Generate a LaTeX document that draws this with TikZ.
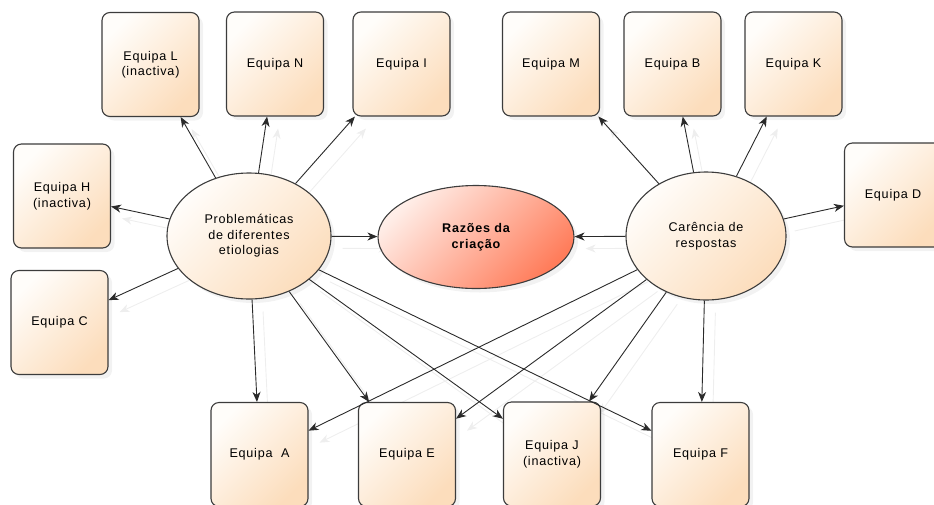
\documentclass[tikz,border=0pt]{standalone}
\usepackage{fontspec}
\setmainfont{Liberation Sans}[LetterSpace=6]
\usetikzlibrary{shapes.geometric,arrows.meta,shadows}
\pgfdeclarelayer{bg}
\pgfsetlayers{bg,main}

\definecolor{boxedge}{HTML}{3C3C3C}
\definecolor{peach}{HTML}{FCDDBC}
\definecolor{peachlight}{HTML}{FFFDFA}
\definecolor{salmon}{HTML}{FF7C5A}
\definecolor{salmonlight}{HTML}{FFEEE8}
\definecolor{wire}{HTML}{2A2A2A}
\definecolor{ghostwire}{HTML}{EEEEEE}

\begin{document}
\begin{tikzpicture}[x=1pt,y=-1pt,
  font=\fontsize{12.6}{15.5}\selectfont,
  team/.style={draw=boxedge, line width=1.1pt, rounded corners=8pt,
    minimum width=97pt, minimum height=104pt, align=center, inner sep=2pt,
    top color=peachlight, bottom color=peach, shading angle=45,
    drop shadow={opacity=0.10, shadow xshift=4pt, shadow yshift=-4pt}},
  cause/.style={ellipse, draw=boxedge, line width=1.1pt, align=center,
    inner sep=0pt, top color=peachlight, bottom color=peach, shading angle=45,
    drop shadow={opacity=0.10, shadow xshift=4pt, shadow yshift=-4pt}},
  core/.style={ellipse, draw=boxedge, line width=1.1pt, align=center,
    inner sep=0pt, top color=salmonlight, bottom color=salmon, shading angle=45,
    font=\fontsize{12.6}{15.5}\selectfont\bfseries,
    drop shadow={opacity=0.10, shadow xshift=4pt, shadow yshift=-4pt}},
  link/.style={draw=wire, line width=0.9pt, -{Stealth[length=10pt,width=8pt,inset=3pt]}},
  ghost/.style={draw=ghostwire, line width=0.9pt, -{Stealth[length=10pt,width=8pt,inset=3pt]},
    transform canvas={xshift=11pt,yshift=-12pt}}
]
\clip (0,0) rectangle (934,504);

% central idea and its two sources
\node[core, minimum width=196pt, minimum height=103pt] (raz) at (476,237) {Razões da\\criação};
\node[cause, minimum width=164pt, minimum height=126pt] (prob) at (249,236) {Problemáticas\\de diferentes\\etiologias};
\node[cause, minimum width=160pt, minimum height=128pt] (car) at (706,236) {Carência de\\respostas};

% teams
\node[team] (L) at (150.5,64.5) {Equipa L\\(inactiva)};
\node[team] (N) at (275,64) {Equipa N};
\node[team] (I) at (401.5,64) {Equipa I};
\node[team] (M) at (551,64) {Equipa M};
\node[team] (B) at (672.5,64) {Equipa B};
\node[team] (K) at (793.5,64) {Equipa K};
\node[team] (H) at (62,196) {Equipa H\\(inactiva)};
\node[team] (C) at (59.5,322.5) {Equipa C};
\node[team] (D) at (893,195) {Equipa D};
\node[team] (A) at (259.5,454.5) {Equipa\ \ A};
\node[team] (E) at (407,454.5) {Equipa E};
\node[team] (J) at (552,454) {Equipa J\\(inactiva)};
\node[team] (F) at (700.5,454.5) {Equipa F};

% faint offset copies of the connectors, kept behind the shapes
\begin{pgfonlayer}{bg}
\foreach \t in {L,N,I,H,C,A,E,J,F,raz}
  \draw[ghost] (prob) -- (\t);
\foreach \t in {M,B,K,D,A,E,J,F,raz}
  \draw[ghost] (car) -- (\t);
\end{pgfonlayer}

% connectors
\foreach \t in {L,N,I,H,C,A,E,J,F,raz}
  \draw[link] (prob) -- (\t);
\foreach \t in {M,B,K,D,A,E,J,F,raz}
  \draw[link] (car) -- (\t);
\end{tikzpicture}
\end{document}
